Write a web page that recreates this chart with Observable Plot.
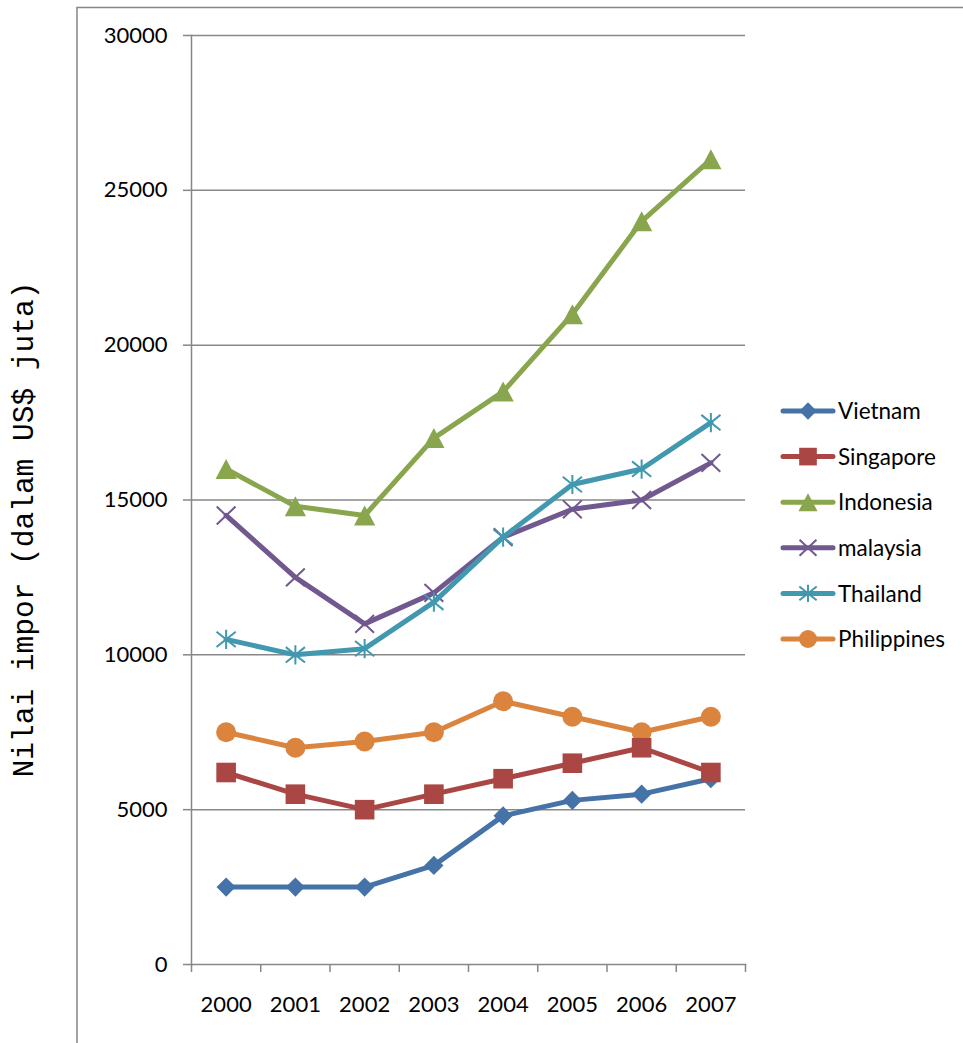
<!DOCTYPE html>
<html>
<head>
<meta charset="utf-8">
<script src="https://cdn.jsdelivr.net/npm/d3@7"></script>
<script src="https://cdn.jsdelivr.net/npm/@observablehq/plot@0.6"></script>
<style>
  html, body { margin: 0; padding: 0; background: #fff; }
  #chart svg { display: block; }
</style>
</head>
<body>
<div id="chart"></div>
<script>
// Import values (US$ million) by year
const years = [2000, 2001, 2002, 2003, 2004, 2005, 2006, 2007];
const countries = ["Vietnam", "Singapore", "Indonesia", "malaysia", "Thailand", "Philippines"];

const vietnam     = [2500, 2500, 2500, 3200, 4800, 5300, 5500, 6000];
const singapore   = [6200, 5500, 5000, 5500, 6000, 6500, 7000, 6200];
const indonesia   = [16000, 14800, 14500, 17000, 18500, 21000, 24000, 26000];
const malaysia    = [14500, 12500, 11000, 12000, 13800, 14700, 15000, 16200];
const thailand    = [10500, 10000, 10200, 11700, 13800, 15500, 16000, 17500];
const philippines = [7500, 7000, 7200, 7500, 8500, 8000, 7500, 8000];

const yTicks = [0, 5000, 10000, 15000, 20000, 25000, 30000];
const yTitle = "Nilai impor (dalam US$ juta)";

const series = [vietnam, singapore, indonesia, malaysia, thailand, philippines];
const colors = ["#4572A7", "#AA4643", "#89A54E", "#71588F", "#4198AF", "#DB843D"];

// Marker shapes; radius derived from the size Plot passes (π r²)
const rad = (size) => Math.sqrt(size / Math.PI);
const diamond = { draw(c, size) { const r = rad(size); c.moveTo(0, -r); c.lineTo(r, 0); c.lineTo(0, r); c.lineTo(-r, 0); c.closePath(); } };
const square = { draw(c, size) { const r = rad(size); c.moveTo(-r, -r); c.lineTo(r, -r); c.lineTo(r, r); c.lineTo(-r, r); c.closePath(); } };
const triangle = { draw(c, size) { const r = rad(size); c.moveTo(0, -r); c.lineTo(1.06 * r, r); c.lineTo(-1.06 * r, r); c.closePath(); } };
const cross = { draw(c, size) { const r = rad(size); c.moveTo(-r, -0.95 * r); c.lineTo(r, 0.95 * r); c.moveTo(-r, 0.95 * r); c.lineTo(r, -0.95 * r); } };
const asterisk = { draw(c, size) { const r = rad(size); c.moveTo(-r, -0.8 * r); c.lineTo(r, 0.8 * r); c.moveTo(-r, 0.8 * r); c.lineTo(r, -0.8 * r); c.moveTo(0, -r); c.lineTo(0, r); } };
const circle = { draw(c, size) { const r = rad(size); c.moveTo(r, 0); c.arc(0, 0, r, 0, 2 * Math.PI); c.closePath(); } };

const symbols = [diamond, square, triangle, cross, asterisk, circle];
const radii = [9.6, 9.8, 10, 9.4, 9.6, 10];
const filled = [true, true, true, false, false, true];

const rows = countries.flatMap((country, i) =>
  years.map((year, j) => ({ country, year, value: series[i][j] }))
);

const gray = "#878787";
const font = "Lato, 'Open Sans', sans-serif";
const bandEdges = [...years.map((y) => y - 0.5), years[years.length - 1] + 0.5];

// Drawing order so later series sit on top
const drawOrder = [5, 0, 1, 2, 3, 4];
const seriesMarks = drawOrder.flatMap((i) => {
  const data = rows.filter((d) => d.country === countries[i]);
  return [
    Plot.line(data, { x: "year", y: "value", stroke: colors[i], strokeWidth: 5, strokeLinejoin: "round", strokeLinecap: "round" }),
    Plot.dot(data, {
      x: "year", y: "value",
      symbol: symbols[i], r: radii[i],
      fill: filled[i] ? colors[i] : "none",
      stroke: filled[i] ? "none" : colors[i],
      strokeWidth: filled[i] ? 0 : 2
    })
  ];
});

const chart = Plot.plot({
  width: 963,
  height: 1043,
  marginLeft: 191,
  marginRight: 218,
  marginTop: 35,
  marginBottom: 79,
  style: { fontFamily: font, fontSize: "22px", color: "#000", background: "#fff" },
  x: { type: "linear", domain: [bandEdges[0], bandEdges[bandEdges.length - 1]] },
  y: { domain: [yTicks[0], yTicks[yTicks.length - 1]] },
  marks: [
    Plot.gridY(yTicks.filter((t) => t > 0), { stroke: gray, strokeOpacity: 1, strokeWidth: 1.5 }),
    Plot.frame({ anchor: "left", stroke: gray, strokeWidth: 1.5 }),
    Plot.frame({ anchor: "bottom", stroke: gray, strokeWidth: 1.5 }),
    Plot.axisY(yTicks, { tickSize: 8, tickPadding: 16, stroke: gray, strokeWidth: 1.5, tickFormat: "d", label: null }),
    Plot.axisX(bandEdges, { tickSize: 8, stroke: gray, strokeWidth: 1.5, tickFormat: () => "", label: null }),
    Plot.axisX(years, { tickSize: 0, tickPadding: 32, tickFormat: "d", label: null }),
    ...seriesMarks,
    Plot.text([yTitle], {
      frameAnchor: "left", dx: -159, dy: 29.5, rotate: -90,
      fontFamily: "'Liberation Mono', monospace", fontSize: 29.5,
      lineAnchor: "bottom", textAnchor: "middle", fill: "#000"
    })
  ]
});

document.getElementById("chart").appendChild(chart);

// Outer chart-area border (left and top edges) and the legend
const svg = d3.select(chart);
svg.append("path")
  .attr("d", "M77,1043V7.5H963")
  .attr("fill", "none")
  .attr("stroke", gray)
  .attr("stroke-width", 1.5);

const legend = svg.append("g").attr("transform", "translate(783,411)");
countries.forEach((name, i) => {
  const row = legend.append("g").attr("transform", `translate(0,${i * 45.6})`);
  row.append("line")
    .attr("x1", 0).attr("x2", 50)
    .attr("stroke", colors[i]).attr("stroke-width", 5).attr("stroke-linecap", "round");
  const r = radii[i] * 0.9;
  row.append("path")
    .attr("transform", "translate(25,0)")
    .attr("d", d3.symbol(symbols[i], Math.PI * r * r)())
    .attr("fill", filled[i] ? colors[i] : "none")
    .attr("stroke", filled[i] ? "none" : colors[i])
    .attr("stroke-width", filled[i] ? 0 : 2);
  row.append("text")
    .attr("x", 55).attr("y", 0).attr("dy", "0.36em")
    .attr("text-anchor", "start")
    .attr("font-family", font)
    .attr("font-size", 22.5)
    .attr("fill", "#000")
    .text(name);
});
</script>
</body>
</html>
